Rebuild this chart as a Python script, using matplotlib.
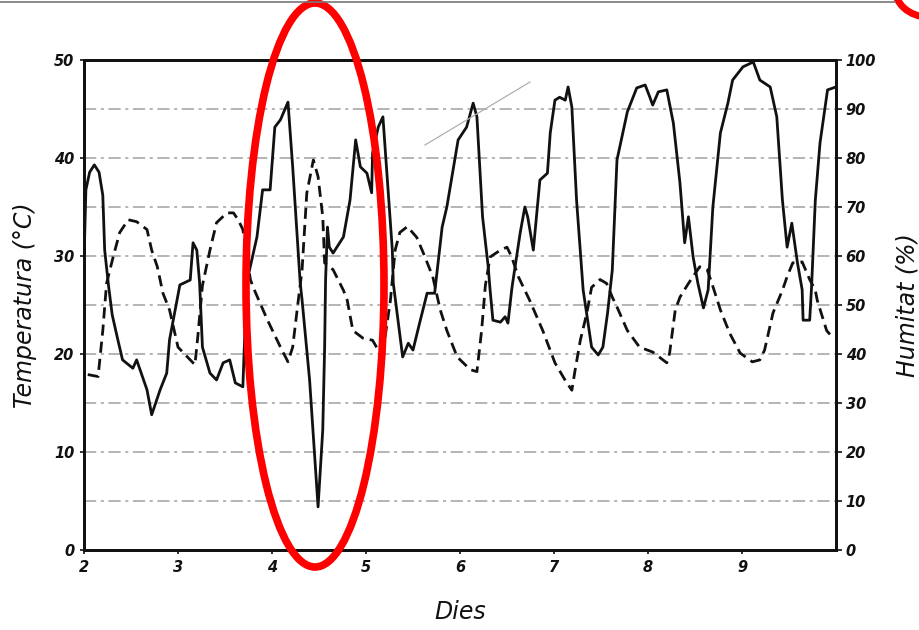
import matplotlib
matplotlib.use("Agg")
import matplotlib.pyplot as plt
from matplotlib.patches import Ellipse
from matplotlib.lines import Line2D

# Humidity (%), solid line, right axis
hum_days = [2.00, 2.02, 2.06, 2.11, 2.16, 2.20, 2.22, 2.26, 2.30, 2.36, 2.41, 2.52, 2.56, 2.67, 2.72,
            2.81, 2.88, 2.91, 3.02, 3.13, 3.16, 3.20, 3.23, 3.26, 3.34, 3.41, 3.48, 3.55, 3.61, 3.69,
            3.73, 3.84, 3.90, 3.98, 4.03, 4.09, 4.17, 4.22, 4.30, 4.32, 4.40, 4.49, 4.54, 4.56, 4.57,
            4.59, 4.61, 4.65, 4.76, 4.83, 4.89, 4.94, 5.01, 5.06, 5.07, 5.13, 5.18, 5.23, 5.28, 5.29,
            5.33, 5.39, 5.45, 5.50, 5.57, 5.65, 5.73, 5.81, 5.86, 5.98, 6.07, 6.14, 6.18, 6.21, 6.24,
            6.30, 6.32, 6.35, 6.43, 6.48, 6.51, 6.55, 6.56, 6.64, 6.69, 6.72, 6.78, 6.85, 6.93, 6.96,
            7.01, 7.06, 7.12, 7.15, 7.19, 7.24, 7.31, 7.40, 7.47, 7.52, 7.57, 7.62, 7.67, 7.78, 7.88,
            7.97, 8.02, 8.05, 8.11, 8.20, 8.27, 8.34, 8.39, 8.43, 8.48, 8.53, 8.59, 8.64, 8.69, 8.77,
            8.85, 8.90, 9.01, 9.12, 9.19, 9.30, 9.37, 9.43, 9.48, 9.53, 9.59, 9.64, 9.65, 9.72, 9.74,
            9.78, 9.83, 9.91, 10.00]
humidity = [58.8, 73.5, 77.1, 78.6, 77.1, 72.4, 61.2, 54.1, 48.0, 42.9, 38.8, 37.1, 38.8, 32.7, 27.6,
            32.7, 36.1, 42.9, 54.1, 55.1, 62.7, 61.2, 54.5, 41.4, 36.1, 34.7, 38.2, 38.8, 34.1, 33.3,
            54.5, 63.9, 73.5, 73.5, 86.3, 87.8, 91.4, 78.2, 54.5, 51.0, 34.7, 8.8, 24.5, 41.4, 55.1,
            65.9, 61.8, 60.6, 63.9, 71.4, 83.7, 78.2, 76.9, 72.9, 81.0, 86.3, 88.4, 74.9, 61.2, 54.5,
            48.4, 39.4, 42.2, 40.8, 46.3, 52.4, 52.4, 65.9, 70.0, 83.7, 86.3, 91.2, 88.4, 78.2, 68.0,
            57.8, 53.1, 46.9, 46.5, 47.6, 46.3, 53.1, 54.5, 64.7, 70.0, 68.0, 61.2, 75.5, 76.9, 85.1,
            91.8, 92.4, 91.8, 94.5, 90.4, 71.4, 53.1, 41.4, 39.8, 41.4, 48.4, 57.1, 79.6, 89.4, 94.3,
            94.9, 92.4, 90.8, 93.5, 93.9, 87.1, 74.9, 62.7, 68.0, 59.8, 54.5, 49.4, 53.1, 70.0, 85.1,
            91.2, 95.9, 98.6, 99.6, 95.9, 94.5, 88.4, 71.4, 61.8, 66.7, 58.6, 53.1, 46.9, 46.9, 53.7,
            71.4, 83.1, 93.9, 94.5]

# Temperature (°C), dashed line, left axis
temp_days = [2.04, 2.15, 2.20, 2.24, 2.31, 2.38, 2.47, 2.56, 2.67, 2.72, 2.78, 2.84, 2.91, 3.00, 3.10,
             3.18, 3.21, 3.26, 3.34, 3.41, 3.52, 3.59, 3.64, 3.69, 3.77, 3.80, 3.95, 4.09, 4.17, 4.22,
             4.28, 4.32, 4.37, 4.44, 4.49, 4.54, 4.56, 4.65, 4.76, 4.80, 4.86, 4.97, 5.07, 5.13, 5.18,
             5.26, 5.31, 5.36, 5.44, 5.54, 5.61, 5.71, 5.79, 5.86, 5.97, 6.11, 6.18, 6.23, 6.27, 6.32,
             6.43, 6.50, 6.55, 6.62, 6.69, 6.74, 6.88, 7.01, 7.12, 7.19, 7.22, 7.28, 7.35, 7.40, 7.49,
             7.56, 7.62, 7.67, 7.78, 7.91, 8.05, 8.20, 8.23, 8.29, 8.34, 8.43, 8.55, 8.63, 8.68, 8.77,
             8.87, 8.98, 9.11, 9.19, 9.24, 9.33, 9.43, 9.48, 9.54, 9.64, 9.72, 9.78, 9.80, 9.90, 9.97]
temperature = [17.9, 17.7, 22.4, 27.2, 29.9, 32.4, 33.7, 33.5, 32.7, 30.6, 28.9, 26.2, 24.5, 20.7, 19.7,
               18.9, 21.7, 27.0, 30.6, 33.4, 34.4, 34.4, 33.7, 32.7, 27.6, 26.8, 23.5, 20.7, 19.2, 20.7,
               25.5, 28.6, 36.4, 39.8, 38.1, 34.0, 29.3, 28.6, 26.5, 25.5, 22.4, 21.6, 21.4, 20.4, 20.2,
               25.5, 30.6, 32.4, 33.0, 31.9, 30.3, 27.9, 24.5, 22.4, 19.7, 18.4, 18.2, 22.4, 27.0, 29.9,
               30.6, 30.9, 29.9, 27.9, 26.5, 25.5, 22.4, 19.1, 17.3, 16.3, 18.1, 21.4, 24.2, 26.8, 27.6,
               27.2, 25.8, 24.8, 22.4, 20.7, 20.2, 19.1, 20.1, 24.5, 25.8, 27.2, 28.9, 28.6, 27.2, 24.5,
               22.1, 20.1, 19.2, 19.4, 20.4, 24.2, 26.5, 27.9, 29.3, 29.4, 27.6, 26.5, 25.5, 22.4, 21.6]

x_ticks = [2, 3, 4, 5, 6, 7, 8, 9]
temp_ticks = [0, 10, 20, 30, 40, 50]
hum_ticks = [0, 10, 20, 30, 40, 50, 60, 70, 80, 90, 100]
grid_levels = [5, 10, 15, 20, 25, 30, 35, 40, 45]

W, H = 919, 630
fig = plt.figure(figsize=(W / 100, H / 100), dpi=100)
ax = fig.add_axes([84 / W, 1 - 550 / H, (836 - 84) / W, (550 - 60) / H])
ax2 = ax.twinx()

for g in grid_levels:
    ax.axhline(g, color="#a0a0a0", lw=1.1, linestyle=(0, (8, 3, 2, 3)), zorder=1)

ax.plot(temp_days, temperature, color="#111111", lw=2.0, linestyle=(0, (4, 2.2)), zorder=3)
ax2.plot(hum_days, humidity, color="#111111", lw=2.0, zorder=3)

ax.set_xlim(2, 10)
ax.set_ylim(0, 50)
ax2.set_ylim(0, 100)
ax.set_xticks(x_ticks)
ax.set_yticks(temp_ticks)
ax2.set_yticks(hum_ticks)

tick_font = dict(family="DejaVu Sans", style="italic", weight="bold", size=10.5)
ax.set_xticklabels([str(t) for t in x_ticks], **tick_font)
ax.set_yticklabels([str(t) for t in temp_ticks], **tick_font)
ax2.set_yticklabels([str(t) for t in hum_ticks], **tick_font)

ax.tick_params(axis="both", length=3, width=1.2, direction="out", pad=4, colors="#111111")
ax2.tick_params(axis="y", length=4, width=1.2, direction="out", pad=3, colors="#111111")

for a in (ax, ax2):
    for s in a.spines.values():
        s.set_linewidth(2.0)
        s.set_color("#111111")

label_font = dict(family="DejaVu Sans", style="italic", size=17, color="#111111")
ax.set_xlabel("Dies", labelpad=18, **label_font)
ax.set_ylabel("Temperatura (°C)", labelpad=12, **label_font)
ax2.set_ylabel("Humitat (%)", labelpad=14, **label_font)

# scan artefacts
fig.add_artist(Line2D([0, 895 / W], [1 - 1.5 / H, 1 - 1.5 / H], color="#777777", lw=1.2))
fig.add_artist(Line2D([425 / W, 530 / W], [1 - 145 / H, 1 - 82 / H], color="#b0b0b0", lw=0.9))

# red annotation ellipses
fig.add_artist(Ellipse((315 / W, 1 - 285 / H), 138 / W, 564 / H, fill=False,
                       edgecolor="#ff0000", lw=5.5, transform=fig.transFigure))
fig.add_artist(Ellipse((928 / W, 1 + 14 / H), 68 / W, 62 / H, fill=False,
                       edgecolor="#ff0000", lw=5, transform=fig.transFigure))

fig.savefig("out.png", dpi=100)
